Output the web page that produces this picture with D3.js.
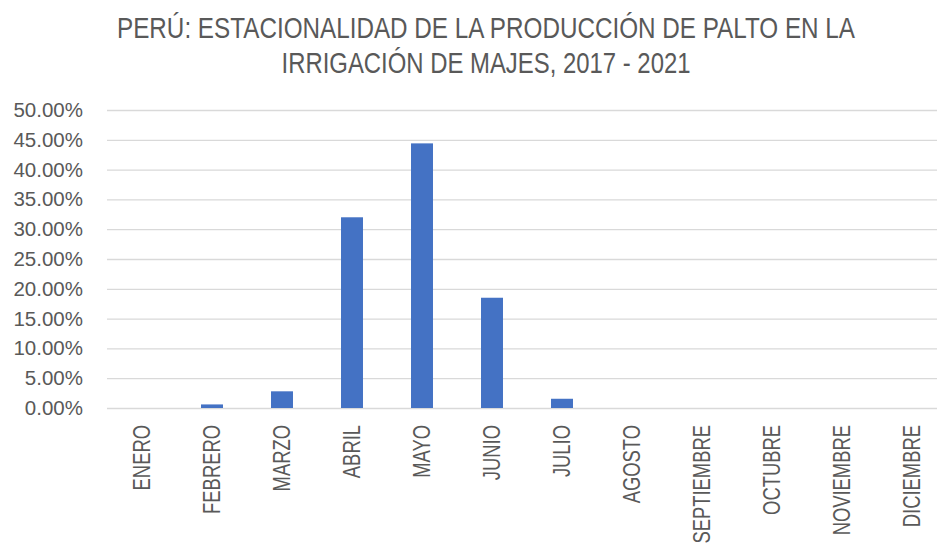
<!DOCTYPE html>
<html>
<head>
<meta charset="utf-8">
<script src="https://cdn.jsdelivr.net/npm/d3@7"></script>
<style>
  body { margin: 0; background: #fff; }
  text { font-family: "Liberation Sans", Arial, sans-serif; fill: #595959; }
</style>
</head>
<body>
<div id="chart"></div>
<script>
var meses = ["ENERO", "FEBRERO", "MARZO", "ABRIL", "MAYO", "JUNIO", "JULIO", "AGOSTO", "SEPTIEMBRE", "OCTUBRE", "NOVIEMBRE", "DICIEMBRE"],
	produccion = [0, 0.006, 0.028, 0.320, 0.444, 0.185, 0.0155, 0, 0, 0, 0, 0],
	yTicks = [0, 0.05, 0.10, 0.15, 0.20, 0.25, 0.30, 0.35, 0.40, 0.45, 0.50],
	titulo = ["PERÚ: ESTACIONALIDAD DE LA PRODUCCIÓN DE PALTO EN LA", "IRRIGACIÓN DE MAJES, 2017 - 2021"];

var width = 937, height = 543,
	margin = { top: 110, right: -10, bottom: 135, left: 107 };

var svg = d3.select("#chart").append("svg")
	.attr("width", width)
	.attr("height", height);

var x = d3.scaleBand()
	.domain(meses)
	.range([margin.left, width - margin.right])
	.paddingInner(0.686)
	.paddingOuter(0.343);

var y = d3.scaleLinear()
	.domain([0, 0.5])
	.range([height - margin.bottom, margin.top]);

// titulo en dos lineas (letra estrecha: se estira en vertical)
svg.selectAll(".titulo")
	.data(titulo)
	.enter().append("text")
	.attr("class", "titulo")
	.attr("transform", function(d, i) { return "translate(486," + (38 + i * 35) + ") scale(1,1.32)"; })
	.attr("text-anchor", "middle")
	.attr("textLength", function(d, i) { return i == 0 ? 738 : 409; })
	.attr("lengthAdjust", "spacingAndGlyphs")
	.style("font-size", "22px")
	.text(function(d) { return d; });

// lineas de grilla
svg.append("g")
	.attr("transform", "translate(" + margin.left + ",0)")
	.call(d3.axisLeft(y).tickValues(yTicks).tickSize(-(width - margin.left - margin.right)).tickFormat(""))
	.call(function(g) { g.select(".domain").remove(); })
	.selectAll("line")
	.attr("stroke", "#d9d9d9")
	.attr("stroke-width", 1.3);

// etiquetas eje y
svg.append("g")
	.attr("transform", "translate(83,0)")
	.call(d3.axisLeft(y).tickValues(yTicks).tickSize(0).tickPadding(0).tickFormat(d3.format(".2%")))
	.call(function(g) { g.select(".domain").remove(); })
	.selectAll("text")
	.style("font-size", "20.5px")
	.style("fill", "#595959");

// barras
svg.selectAll(".bar")
	.data(produccion)
	.enter().append("rect")
	.attr("class", "bar")
	.attr("x", function(d, i) { return x(meses[i]); })
	.attr("width", x.bandwidth())
	.attr("y", function(d) { return y(d); })
	.attr("height", function(d) { return y(0) - y(d); })
	.attr("fill", "#4472C4");

// etiquetas eje x (rotadas)
svg.selectAll(".mes")
	.data(meses)
	.enter().append("text")
	.attr("class", "mes")
	.attr("transform", function(d) {
		return "translate(" + (x(d) + x.bandwidth() / 2) + ",425) rotate(-90) scale(0.8,1)";
	})
	.attr("dy", "0.36em")
	.attr("text-anchor", "end")
	.style("font-size", "23px")
	.text(function(d) { return d; });
</script>
</body>
</html>
